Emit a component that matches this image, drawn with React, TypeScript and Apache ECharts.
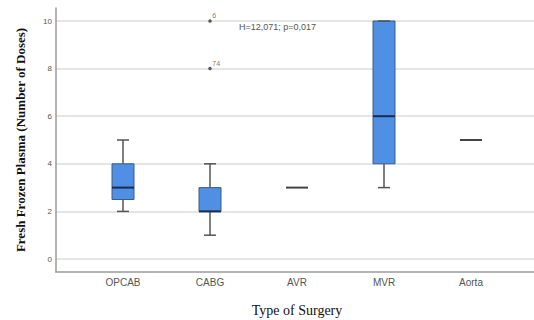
import React, { useEffect, useRef } from "react";
import * as echarts from "echarts";

const categories = ["OPCAB", "CABG", "AVR", "MVR", "Aorta"];
// [min, Q1, median, Q3, max]
const boxStats = [
  [2, 2.5, 3, 4, 5],
  [1, 2, 2, 3, 4],
  [3, 3, 3, 3, 3],
  [3, 4, 6, 10, 10],
  [5, 5, 5, 5, 5],
];
const outliers: [number, number, string][] = [
  [1, 10, "6"],
  [1, 8, "74"],
];
const yTicks = [0, 2, 4, 6, 8, 10];
const annotation = "H=12,071; p=0,017";

export default function App() {
  const ref = useRef<HTMLDivElement>(null);
  useEffect(() => {
    if (!ref.current) return;
    const chart = echarts.init(ref.current, undefined, { renderer: "svg" });
    const sans = "Liberation Sans, Arial, sans-serif";
    const serif = "Liberation Serif, Times New Roman, serif";
    const boxData = boxStats.map((s, i) => [i, ...s]);
    chart.setOption({
      animation: false,
      backgroundColor: "#ffffff",
      grid: [
        { left: 56, right: 0, top: 8, bottom: 48, outerBoundsMode: "none", containLabel: false },
        { left: 56, right: 0, top: 21, bottom: 61, outerBoundsMode: "none", containLabel: false },
        { left: 79.5, width: 435, top: 21, bottom: 61, outerBoundsMode: "none", containLabel: false },
      ],
      xAxis: [
        {
          gridIndex: 0, type: "value", min: 0, max: 1,
          axisLine: { show: true, lineStyle: { color: "#9a9a9a", width: 1.5 } },
          axisTick: { show: false }, axisLabel: { show: false }, splitLine: { show: false },
        },
        {
          gridIndex: 1, type: "value", min: 0, max: 1, show: false,
        },
        {
          gridIndex: 2, type: "category", data: categories, offset: 13,
          axisLine: { show: false }, axisTick: { show: false },
          axisLabel: { color: "#555", fontSize: 10, fontFamily: sans, margin: 5 },
          splitLine: { show: false },
          name: "Type of Surgery", nameLocation: "middle", nameGap: 31,
          nameTextStyle: { fontFamily: serif, fontSize: 14, color: "#111" },
        },
      ],
      yAxis: [
        {
          gridIndex: 0, type: "value", min: 0, max: 1,
          axisLine: { show: true, lineStyle: { color: "#9a9a9a", width: 1.5 } },
          axisTick: { show: false }, axisLabel: { show: false }, splitLine: { show: false },
          name: "Fresh Frozen Plasma (Number of Doses)", nameLocation: "middle", nameGap: 29,
          nameRotate: 90,
          nameTextStyle: { fontFamily: serif, fontSize: 13, fontWeight: "bold", color: "#111" },
        },
        {
          gridIndex: 1, type: "value", min: yTicks[0], max: yTicks[yTicks.length - 1], interval: 2,
          axisLine: { show: false }, axisTick: { show: false },
          axisLabel: { color: "#555", fontSize: 8, fontFamily: sans, margin: 4 },
          splitLine: { show: true, lineStyle: { color: "#dcdcdc", width: 1.5 } },
        },
        {
          gridIndex: 2, type: "value", min: 0, max: 10, show: false,
        },
      ],
      graphic: [
        {
          type: "text", left: 239, top: 22,
          style: { text: annotation, fontSize: 9, fill: "#555", font: `9px ${sans}` },
        },
      ],
      series: [
        {
          type: "custom",
          xAxisIndex: 2, yAxisIndex: 2,
          data: boxData,
          renderItem: (params: any, api: any) => {
            const x = api.value(0);
            const mn = api.value(1), q1 = api.value(2), md = api.value(3), q3 = api.value(4), mx = api.value(5);
            const pMin = api.coord([x, mn]);
            const pQ1 = api.coord([x, q1]);
            const pMd = api.coord([x, md]);
            const pQ3 = api.coord([x, q3]);
            const pMax = api.coord([x, mx]);
            const cx = pMd[0];
            const bw = 22, cw = 12;
            const children: any[] = [];
            if (mn === mx) {
              children.push({
                type: "line",
                shape: { x1: cx - bw / 2, y1: pMd[1], x2: cx + bw / 2, y2: pMd[1] },
                style: { stroke: "#444", lineWidth: 2 },
              });
              return { type: "group", children };
            }
            const wStyle = { stroke: "#555", lineWidth: 1.5 };
            children.push({ type: "line", shape: { x1: cx, y1: pQ1[1], x2: cx, y2: pMin[1] }, style: wStyle });
            children.push({ type: "line", shape: { x1: cx, y1: pQ3[1], x2: cx, y2: pMax[1] }, style: wStyle });
            children.push({ type: "line", shape: { x1: cx - cw / 2, y1: pMin[1], x2: cx + cw / 2, y2: pMin[1] }, style: wStyle });
            children.push({
              type: "rect",
              shape: { x: cx - bw / 2, y: pQ3[1], width: bw, height: pQ1[1] - pQ3[1] },
              style: { fill: "#4f8fe4", stroke: "#3d5c85", lineWidth: 1 },
            });
            children.push({ type: "line", shape: { x1: cx - cw / 2, y1: pMax[1], x2: cx + cw / 2, y2: pMax[1] }, style: wStyle });
            children.push({
              type: "line",
              shape: { x1: cx - bw / 2, y1: pMd[1], x2: cx + bw / 2, y2: pMd[1] },
              style: { stroke: "#1b2c4c", lineWidth: 2 },
            });
            return { type: "group", children };
          },
        },
        {
          type: "scatter",
          xAxisIndex: 2, yAxisIndex: 2,
          data: outliers.map((o) => ({ value: [o[0], o[1]], name: o[2] })),
          symbolSize: 3.5,
          itemStyle: { color: "#333" },
          label: {
            show: true, formatter: (p: any) => p.name, position: [4, -7],
            fontSize: 7, color: "#555", fontFamily: sans,
          },
        },
      ],
    });
    return () => chart.dispose();
  }, []);
  return (
    <div
      ref={ref}
      style={{ position: "fixed", left: 0, top: 0, width: 534, height: 320, background: "#fff" }}
    />
  );
}
